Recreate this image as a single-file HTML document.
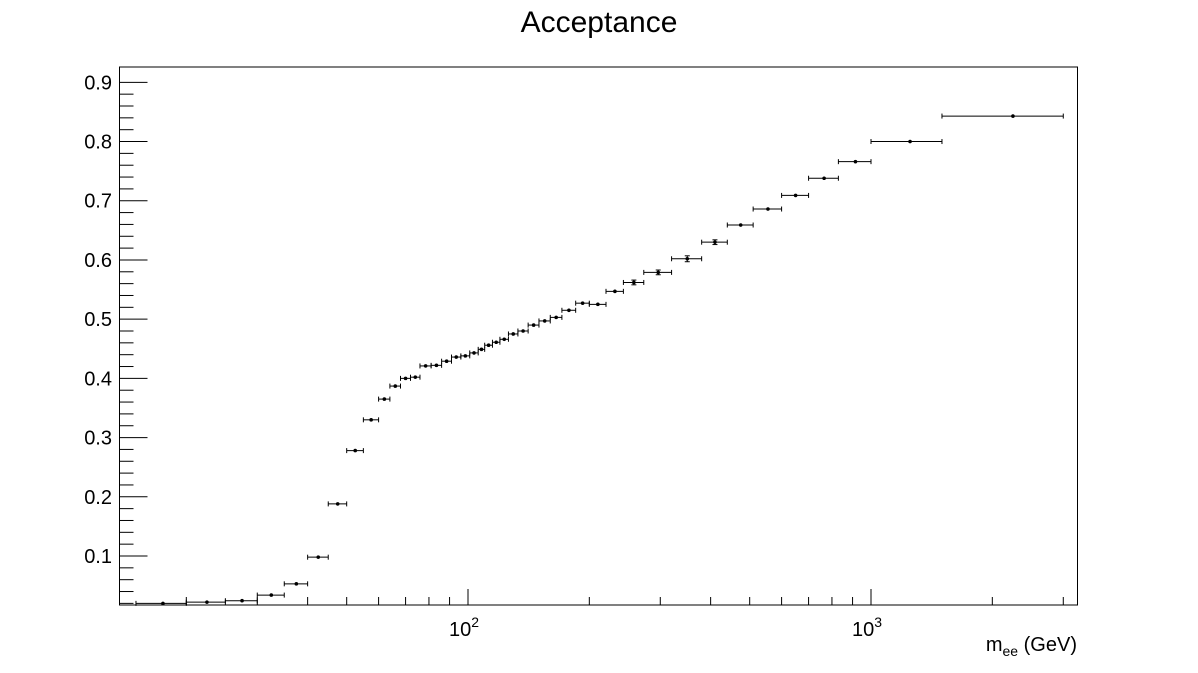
<!DOCTYPE html>
<html><head><meta charset="utf-8"><style>
html,body{margin:0;padding:0;background:#fff;}
svg{display:block;font-family:"Liberation Sans",sans-serif;}
</style></head><body>
<svg id="chart" width="1198" height="673" viewBox="0 0 1198 673">
<rect x="0" y="0" width="1198" height="673" fill="#fff"/>
<text x="599" y="32" font-size="30" text-anchor="middle">Acceptance</text>
<g id="axes"></g>
<g id="marks"></g>
<text x="1077" y="651" font-size="20" text-anchor="end">m<tspan font-size="14" dy="5">ee</tspan><tspan dy="-5"> (GeV)</tspan></text>
</svg>
<script>
const binEdges=[15,20,25,30,35,40,45,50,55,60,64,68,72,76,81,86,91,96,101,106,110,115,120,126,133,141,150,160,171,185,200,220,243,273,320,380,440,510,600,700,830,1000,1500,3000];
const acceptance=[0.020,0.022,0.0245,0.034,0.053,0.098,0.188,0.278,0.330,0.365,0.387,0.400,0.402,0.421,0.422,0.429,0.436,0.438,0.443,0.449,0.456,0.461,0.466,0.475,0.480,0.490,0.497,0.503,0.515,0.527,0.525,0.547,0.562,0.579,0.602,0.630,0.659,0.686,0.709,0.738,0.766,0.800,0.843];
const acceptanceErr=[0.001,0.001,0.001,0.001,0.001,0.001,0.001,0.001,0.001,0.001,0.001,0.001,0.001,0.001,0.001,0.001,0.001,0.001,0.001,0.001,0.001,0.001,0.001,0.001,0.001,0.001,0.001,0.001,0.001,0.001,0.001,0.003,0.004,0.004,0.005,0.004,0.002,0.002,0.002,0.002,0.002,0.001,0.001];
const yTicks=[0.1,0.2,0.3,0.4,0.5,0.6,0.7,0.8,0.9];
const xMajor=[100,1000];
const xMinor=[20,30,40,50,60,70,80,90,200,300,400,500,600,700,800,900,2000,3000];

const L=119.5,R=1077.5,T=67,B=605;
const X=m=>468+403*(Math.log10(m)-2);
const Y=v=>556-(v-0.1)*592.1;
const NS='http://www.w3.org/2000/svg';
function mk(tag,attrs,parent){const e=document.createElementNS(NS,tag);for(const k in attrs)e.setAttribute(k,attrs[k]);parent.appendChild(e);return e;}
const axes=document.getElementById('axes'),marks=document.getElementById('marks');
const frame=mk('rect',{x:L,y:T,width:R-L,height:B-T,fill:'none',stroke:'#000','stroke-width':1},axes);


for(let v=0.02;v<=0.92;v+=0.02){
  const vv=Math.round(v*100)/100;const y=Y(vv);
  if(y<T||y>B)continue;
  const major=Math.abs(vv*10-Math.round(vv*10))<1e-6;
  const t=mk('line',{x1:L,x2:L+(major?28:14),y1:y,y2:y,stroke:'#000','stroke-width':1},axes);
  
  
}
yTicks.forEach(v=>{
  const t=mk('text',{x:112,y:Y(v)+7,'font-size':20,'text-anchor':'end'},axes);t.textContent=v.toFixed(1);
  
  
});
xMinor.forEach(m=>{
  const t=mk('line',{x1:X(m),x2:X(m),y1:B,y2:B-8,stroke:'#000','stroke-width':1},axes);
  
  
});
xMajor.forEach(m=>{
  const t=mk('line',{x1:X(m),x2:X(m),y1:B,y2:B-16,stroke:'#000','stroke-width':1},axes);
  
  
  const lb=mk('text',{x:X(m)-4,y:636,'font-size':20,'text-anchor':'middle'},axes);
  
  
  const e=Math.round(Math.log10(m));
  lb.innerHTML='10<tspan font-size="14" dy="-9">'+e+'</tspan>';
});
acceptance.forEach((v,i)=>{
  const x1=X(binEdges[i]),x2=X(binEdges[i+1]),xc=X((binEdges[i]+binEdges[i+1])/2),y=Y(v);
  const g=mk('g',{},marks);
  
  
  mk('line',{x1:x1,x2:x2,y1:y,y2:y,stroke:'#000','stroke-width':1},g);
  mk('line',{x1:x1,x2:x1,y1:y-2.5,y2:y+2.5,stroke:'#000','stroke-width':1},g);
  mk('line',{x1:x2,x2:x2,y1:y-2.5,y2:y+2.5,stroke:'#000','stroke-width':1},g);
  const ey=acceptanceErr[i]*592.1;
  if(ey>2){
    mk('line',{x1:xc,x2:xc,y1:y-ey,y2:y+ey,stroke:'#000','stroke-width':1},g);
    mk('line',{x1:xc-2.5,x2:xc+2.5,y1:y-ey,y2:y-ey,stroke:'#000','stroke-width':1},g);
    mk('line',{x1:xc-2.5,x2:xc+2.5,y1:y+ey,y2:y+ey,stroke:'#000','stroke-width':1},g);
  }
  mk('circle',{cx:xc,cy:y,r:1.8,fill:'#000'},g);
});
</script>
</body></html>
